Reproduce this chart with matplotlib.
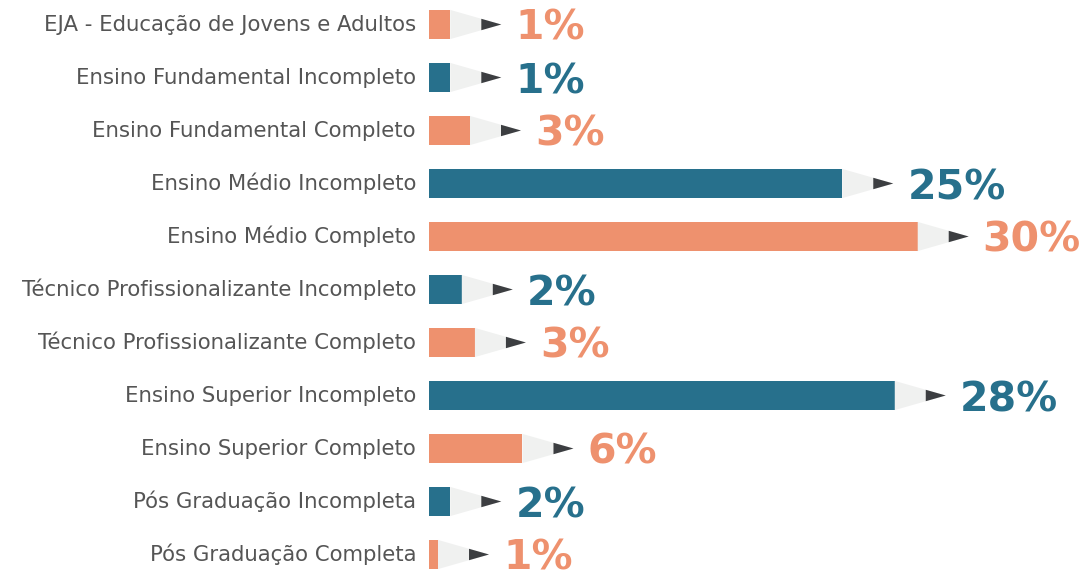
import matplotlib
matplotlib.use("Agg")
import matplotlib.pyplot as plt
from matplotlib.patches import Polygon

categories = [
    "EJA - Educação de Jovens e Adultos",
    "Ensino Fundamental Incompleto",
    "Ensino Fundamental Completo",
    "Ensino Médio Incompleto",
    "Ensino Médio Completo",
    "Técnico Profissionalizante Incompleto",
    "Técnico Profissionalizante Completo",
    "Ensino Superior Incompleto",
    "Ensino Superior Completo",
    "Pós Graduação Incompleta",
    "Pós Graduação Completa",
]
values = [1.3, 1.3, 2.5, 25.2, 29.8, 2.0, 2.8, 28.4, 5.7, 1.3, 0.55]
value_labels = ["1%", "1%", "3%", "25%", "30%", "2%", "3%", "28%", "6%", "2%", "1%"]

ORANGE = "#EE916E"
TEAL = "#27708C"
colors = [ORANGE if i % 2 == 0 else TEAL for i in range(len(categories))]

W, H = 1091, 572
fig = plt.figure(figsize=(W / 100, H / 100), dpi=100)
px_per_unit = 16.4
ax_left = 429
ax = fig.add_axes([ax_left / W, 0, (W - ax_left) / W, 1])
ax.set_xlim(0, (W - ax_left) / px_per_unit)
row = 53.0
top_c = 24.5
n = len(categories)
ax.set_ylim((n - 1) + (H - top_c - (n - 1) * row) / row, -top_c / row)
ax.axis("off")

bar_h = 0.55
ys = list(range(n))
ax.barh(ys, values, height=bar_h, color=colors, zorder=2)

L = 51 / px_per_unit      # pencil cone length
dark = 20 / px_per_unit   # dark tip length
for y, v, c, lab in zip(ys, values, colors, value_labels):
    cone = Polygon([(v, y - bar_h / 2), (v, y + bar_h / 2), (v + L, y)],
                   closed=True, facecolor="#F0F1F0", edgecolor="none", zorder=2)
    ax.add_patch(cone)
    f = dark / L
    tip = Polygon([(v + L - dark, y - bar_h / 2 * f), (v + L - dark, y + bar_h / 2 * f), (v + L, y)],
                  closed=True, facecolor="#3C3E41", edgecolor="none", zorder=3)
    ax.add_patch(tip)
    ax.text(v + L + 14 / px_per_unit, y + 15.5 / row, lab, color=c, fontsize=29.5,
            fontweight="bold", family=["DejaVu Sans"], va="baseline", ha="left")

for y, cat in zip(ys, categories):
    fig.text(416 / W, 1 - (top_c + 6.5 + y * row) / H, cat, ha="right", va="baseline",
             fontsize=15.3, color="#555555", family=["DejaVu Sans"])

fig.savefig("out.png", dpi=100, facecolor="white")
